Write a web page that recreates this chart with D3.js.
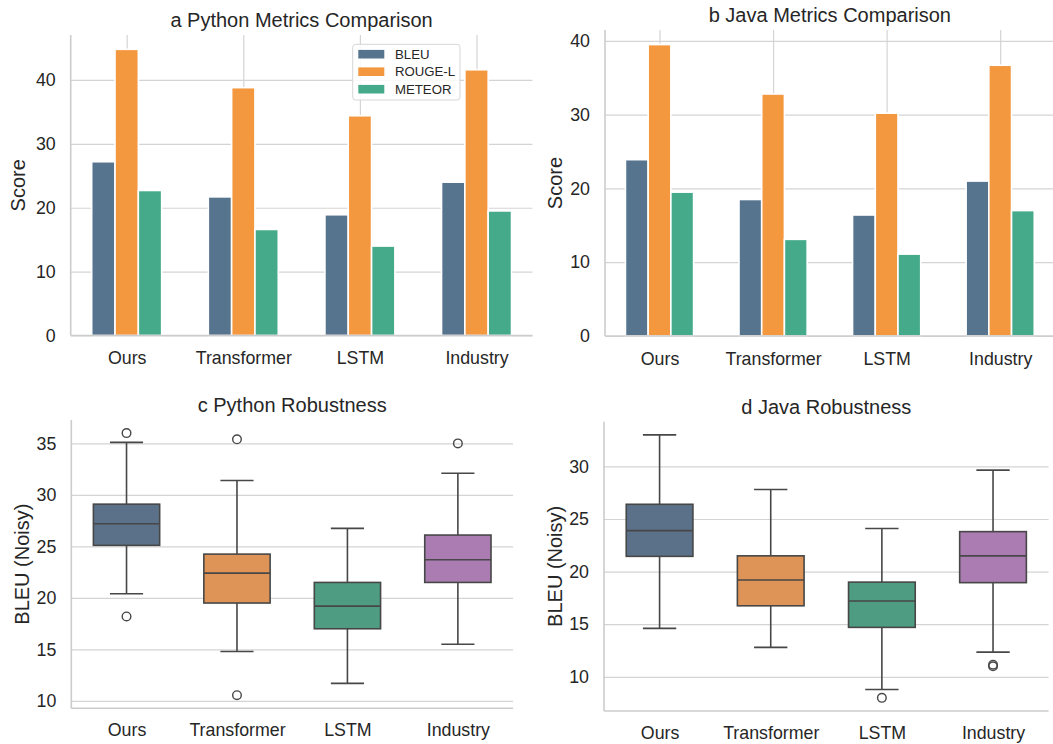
<!DOCTYPE html>
<html>
<head>
<meta charset="utf-8">
<script src="https://cdn.jsdelivr.net/npm/d3@7"></script>
<style>
  html, body { margin: 0; padding: 0; background: #ffffff; }
  svg { display: block; }
  text { font-family: "Liberation Sans", Arial, sans-serif; fill: #262626; }
</style>
</head>
<body>
<svg id="fig" width="1053" height="744"></svg>
<script>
// ---- data ----
const models = ["Ours", "Transformer", "LSTM", "Industry"];
const metrics = ["BLEU", "ROUGE-L", "METEOR"];

// Python metric scores per model
const pyBleu   = [27.2, 21.7, 18.9, 24.0];
const pyRouge  = [44.8, 38.8, 34.4, 41.6];
const pyMeteor = [22.7, 16.6, 14.0, 19.5];

// Java metric scores per model
const javaBleu   = [23.9, 18.5, 16.4, 21.0];
const javaRouge  = [39.5, 32.8, 30.2, 36.7];
const javaMeteor = [19.5, 13.1, 11.1, 17.0];

// Python noisy-BLEU distribution summaries
const pyWhiskerLow  = [20.4, 14.8, 11.7, 15.5];
const pyQ1          = [25.1, 19.5, 17.0, 21.5];
const pyMedian      = [27.2, 22.4, 19.2, 23.7];
const pyQ3          = [29.1, 24.25, 21.5, 26.1];
const pyWhiskerHigh = [35.1, 31.4, 26.75, 32.1];
const pyOutliers    = [[36.0, 18.2], [35.4, 10.55], [], [35.0]];

// Java noisy-BLEU distribution summaries
const javaWhiskerLow  = [14.6, 12.8, 8.8, 12.35];
const javaQ1          = [21.45, 16.75, 14.7, 18.95];
const javaMedian      = [23.9, 19.2, 17.2, 21.5];
const javaQ3          = [26.4, 21.5, 19.0, 23.8];
const javaWhiskerHigh = [33.0, 27.8, 24.1, 29.65];
const javaOutliers    = [[], [], [8.0], [11.0, 11.15]];

// ---- styling ----
const metricColors = ["#57748f", "#f4983f", "#44aa8a"];
const boxColors = ["#5b7189", "#de9456", "#4e9c82", "#ab7cb2"];
const lineColor = "#474747";
const gridColor = "#d4d4d4";
const spineColor = "#cccccc";
const tickFont = 17.8;
const labelFont = 20;

const svg = d3.select("#fig");

function panelFrame(p) {
  const g = svg.append("g");
  // horizontal grid
  g.append("g")
    .attr("transform", `translate(${p.left},0)`)
    .call(d3.axisLeft(p.y).tickValues(p.ticks).tickSize(-(p.right - p.left)).tickFormat(""))
    .call(s => s.select(".domain").remove())
    .call(s => s.selectAll("line").attr("stroke", gridColor).attr("stroke-width", 1.2));
  // vertical grid at categories
  if (p.xGrid) {
    g.append("g")
      .attr("transform", `translate(0,${p.bottom})`)
      .call(d3.axisBottom(p.x).tickSize(-(p.bottom - p.top)).tickFormat(""))
      .call(s => s.select(".domain").remove())
      .call(s => s.selectAll("line").attr("stroke", gridColor).attr("stroke-width", 1.2));
  }
  return g;
}

function panelAxes(p) {
  const g = svg.append("g");
  // spines
  g.append("line").attr("x1", p.left).attr("x2", p.left).attr("y1", p.top).attr("y2", p.bottom)
    .attr("stroke", spineColor).attr("stroke-width", 1.6);
  g.append("line").attr("x1", p.left).attr("x2", p.right).attr("y1", p.bottom).attr("y2", p.bottom)
    .attr("stroke", spineColor).attr("stroke-width", 1.6);
  // y tick labels
  g.append("g")
    .attr("transform", `translate(${p.left},0)`)
    .call(d3.axisLeft(p.y).tickValues(p.ticks).tickSize(0).tickPadding(15).tickFormat(d3.format("d")))
    .call(s => s.select(".domain").remove())
    .call(s => s.selectAll("text").attr("font-size", tickFont).attr("fill", "#262626")
      .style("font-family", '"Liberation Sans", Arial, sans-serif'));
  // x tick labels
  g.append("g")
    .attr("transform", `translate(0,${p.bottom})`)
    .call(d3.axisBottom(p.x).tickSize(0).tickPadding(p.xPad))
    .call(s => s.select(".domain").remove())
    .call(s => s.selectAll("text").attr("font-size", tickFont).attr("fill", "#262626")
      .style("font-family", '"Liberation Sans", Arial, sans-serif'));
  // title
  g.append("text")
    .attr("x", (p.left + p.right) / 2).attr("y", p.top - 8)
    .attr("text-anchor", "middle").attr("font-size", labelFont)
    .text(p.title);
  // y label
  g.append("text")
    .attr("transform", `translate(${p.left - p.ylabOffset},${(p.top + p.bottom) / 2}) rotate(-90)`)
    .attr("text-anchor", "middle").attr("font-size", labelFont)
    .text(p.ylabel);
}

function barPanel(p, series) {
  p.x = d3.scalePoint().domain(models).range([p.left, p.right]).padding(0.48);
  const step = p.x.step();
  const maxV = d3.max(series.flat());
  p.y = d3.scaleLinear().domain([0, maxV * 1.05]).range([p.bottom, p.top]);
  p.xGrid = true;
  panelFrame(p);
  const inner = d3.scaleBand().domain(metrics).range([-0.3 * step, 0.3 * step]);
  const g = svg.append("g");
  metrics.forEach((m, mi) => {
    g.selectAll(null).data(series[mi]).join("rect")
      .attr("x", (d, i) => p.x(models[i]) + inner(m))
      .attr("width", inner.bandwidth())
      .attr("y", d => p.y(d))
      .attr("height", d => p.y(0) - p.y(d))
      .attr("fill", metricColors[mi])
      .attr("stroke", "#ffffff").attr("stroke-width", 1.6);
  });
  panelAxes(p);
}

function boxPanel(p, st) {
  p.x = d3.scalePoint().domain(models).range([p.left, p.right]).padding(0.5);
  const step = p.x.step();
  const all = st.lo.concat(st.hi, st.out.flat());
  const lo = d3.min(all), hi = d3.max(all), pad = (hi - lo) * 0.05;
  p.y = d3.scaleLinear().domain([lo - pad, hi + pad]).range([p.bottom, p.top]);
  p.xGrid = false;
  panelFrame(p);
  const bw = 0.6 * step;
  const g = svg.append("g");
  models.forEach((m, i) => {
    const cx = p.x(m);
    const gi = g.append("g");
    // whiskers
    gi.append("line").attr("x1", cx).attr("x2", cx).attr("y1", p.y(st.q3[i])).attr("y2", p.y(st.hi[i]))
      .attr("stroke", lineColor).attr("stroke-width", 1.6);
    gi.append("line").attr("x1", cx).attr("x2", cx).attr("y1", p.y(st.q1[i])).attr("y2", p.y(st.lo[i]))
      .attr("stroke", lineColor).attr("stroke-width", 1.6);
    // caps
    [st.hi[i], st.lo[i]].forEach(v => {
      gi.append("line").attr("x1", cx - bw / 4).attr("x2", cx + bw / 4).attr("y1", p.y(v)).attr("y2", p.y(v))
        .attr("stroke", lineColor).attr("stroke-width", 1.6);
    });
    // box
    gi.append("rect").attr("x", cx - bw / 2).attr("width", bw)
      .attr("y", p.y(st.q3[i])).attr("height", p.y(st.q1[i]) - p.y(st.q3[i]))
      .attr("fill", boxColors[i]).attr("stroke", lineColor).attr("stroke-width", 1.6);
    // median
    gi.append("line").attr("x1", cx - bw / 2).attr("x2", cx + bw / 2)
      .attr("y1", p.y(st.med[i])).attr("y2", p.y(st.med[i]))
      .attr("stroke", lineColor).attr("stroke-width", 1.6);
    // outliers
    gi.selectAll("circle").data(st.out[i]).join("circle")
      .attr("cx", cx).attr("cy", d => p.y(d)).attr("r", 4.3)
      .attr("fill", "none").attr("stroke", lineColor).attr("stroke-width", 1.4);
  });
  panelAxes(p);
}

// a: Python metrics
barPanel({ left: 70.7, right: 532.5, top: 35, bottom: 335.5, ticks: [0, 10, 20, 30, 40],
  title: "a Python Metrics Comparison", ylabel: "Score", ylabOffset: 45.5, xPad: 16 },
  [pyBleu, pyRouge, pyMeteor]);

// b: Java metrics
barPanel({ left: 605, right: 1054.7, top: 30, bottom: 336, ticks: [0, 10, 20, 30, 40],
  title: "b Java Metrics Comparison", ylabel: "Score", ylabOffset: 43.5, xPad: 16 },
  [javaBleu, javaRouge, javaMeteor]);

// c: Python robustness
boxPanel({ left: 71.3, right: 513.1, top: 420, bottom: 708.3, ticks: [10, 15, 20, 25, 30, 35],
  title: "c Python Robustness", ylabel: "BLEU (Noisy)", ylabOffset: 42, xPad: 15.5 },
  { lo: pyWhiskerLow, q1: pyQ1, med: pyMedian, q3: pyQ3, hi: pyWhiskerHigh, out: pyOutliers });

// d: Java robustness
boxPanel({ left: 604, right: 1048.6, top: 421.7, bottom: 711, ticks: [10, 15, 20, 25, 30],
  title: "d Java Robustness", ylabel: "BLEU (Noisy)", ylabOffset: 42.5, xPad: 15 },
  { lo: javaWhiskerLow, q1: javaQ1, med: javaMedian, q3: javaQ3, hi: javaWhiskerHigh, out: javaOutliers });

// legend for panel a
const leg = svg.append("g").attr("transform", "translate(352.7,44.3)");
leg.append("rect").attr("width", 107.3).attr("height", 55.7).attr("rx", 3)
  .attr("fill", "#ffffff").attr("fill-opacity", 0.85)
  .attr("stroke", "#d6d6d6").attr("stroke-width", 1);
metrics.forEach((m, i) => {
  const cy = 9.9 + i * 17.5;
  leg.append("rect").attr("x", 5.6).attr("y", cy - 4.3).attr("width", 26).attr("height", 8.6)
    .attr("fill", metricColors[i]);
  leg.append("text").attr("x", 42.3).attr("y", cy).attr("dy", "0.36em")
    .attr("font-size", 13.2).text(m);
});
</script>
</body>
</html>
